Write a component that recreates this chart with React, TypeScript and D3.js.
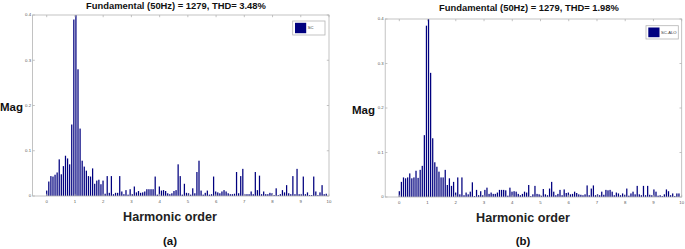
import React from "react";
import * as d3 from "d3";

// FFT bin resolution expressed in harmonic order
const BIN_STEP = 0.0739;

// Panel (a): SC
const scMag = [
  0.012, 0.032, 0.044, 0.043, 0.047, 0.052, 0.081, 0.048, 0.066, 0.089,
  0.083, 0.07, 0.158, 0.39, 1.0, 0.28, 0.149, 0.078, 0.065, 0.056,
  0.044, 0.043, 0.061, 0.027, 0.034, 0.036, 0.026, 0.034, 0.005, 0.044,
  0.007, 0.044, 0.004, 0.007, 0.007, 0.044, 0.01, 0.004, 0.013, 0.003,
  0.015, 0.004, 0.021, 0.008, 0.011, 0.007, 0.008, 0.01, 0.015, 0.015,
  0.015, 0.015, 0.043, 0.003, 0.021, 0.012, 0.013, 0.011, 0.006, 0.004,
  0.006, 0.011, 0.013, 0.07, 0.044, 0.003, 0.027, 0.007, 0.006, 0.003,
  0.017, 0.006, 0.053, 0.078, 0.012, 0.003, 0.007, 0.012, 0.003, 0.004,
  0.043, 0.01, 0.008, 0.006, 0.01, 0.013, 0.01, 0.006, 0.004, 0.004,
  0.005, 0.053, 0.006, 0.044, 0.06, 0.004, 0.004, 0.004, 0.01, 0.004,
  0.053, 0.013, 0.045, 0.004, 0.01, 0.004, 0.004, 0.007, 0.006, 0.002,
  0.017, 0.002, 0.004, 0.013, 0.008, 0.024, 0.006, 0.004, 0.044, 0.004,
  0.06, 0.004, 0.004, 0.043, 0.004, 0.008, 0.002, 0.002, 0.043, 0.01,
  0.002, 0.008, 0.024, 0.004, 0.005,
];

// Panel (b): SC-ALO
const scAloMag = [
  0.013, 0.034, 0.044, 0.042, 0.044, 0.053, 0.042, 0.044, 0.059, 0.043,
  0.061, 0.07, 0.139, 0.385, 1.0, 0.279, 0.132, 0.078, 0.068, 0.057,
  0.044, 0.044, 0.061, 0.027, 0.042, 0.025, 0.034, 0.01, 0.044, 0.006,
  0.044, 0.004, 0.01, 0.006, 0.012, 0.033, 0.002, 0.016, 0.004, 0.013,
  0.004, 0.016, 0.021, 0.007, 0.01, 0.007, 0.007, 0.01, 0.016, 0.016,
  0.016, 0.015, 0.003, 0.021, 0.012, 0.013, 0.012, 0.007, 0.004, 0.007,
  0.012, 0.01, 0.027, 0.002, 0.006, 0.025, 0.007, 0.006, 0.003, 0.018,
  0.006, 0.004, 0.019, 0.034, 0.012, 0.004, 0.007, 0.016, 0.004, 0.017,
  0.009, 0.01, 0.006, 0.007, 0.012, 0.009, 0.006, 0.005, 0.004, 0.006,
  0.026, 0.004, 0.019, 0.026, 0.004, 0.006, 0.004, 0.012, 0.005, 0.016,
  0.015, 0.016, 0.012, 0.004, 0.01, 0.008, 0.004, 0.008, 0.005, 0.019,
  0.003, 0.008, 0.012, 0.006, 0.025, 0.006, 0.004, 0.025, 0.004, 0.025,
  0.005, 0.004, 0.017, 0.012, 0.003, 0.004, 0.002, 0.006, 0.017, 0.013,
  0.004, 0.008, 0.002, 0.008, 0.008,
];

const xTicks = [0, 1, 2, 3, 4, 5, 6, 7, 8, 9, 10];
const yTicks = [0, 0.1, 0.2, 0.3, 0.4];
const xDomain = [-0.5, 10];
const yDomain = [0, 0.4];

const FONT = "'Liberation Sans', Arial, Helvetica, sans-serif";
const BAR = "#00007f";
const AXIS = "#b4b4b4";

type PanelProps = {
  id: string;
  values: number[];
  left: number;
  right: number;
  top: number;
  bottom: number;
  title: string;
  titleX: number;
  titleY: number;
  legend: string;
  legendBox: [number, number, number, number];
  magX: number;
  magY: number;
  labelX: number;
  labelY: number;
  caption: string;
  captionY: number;
};

function Panel(p: PanelProps) {
  const x = d3.scaleLinear().domain(xDomain).range([p.left, p.right]);
  const y = d3.scaleLinear().domain(yDomain).range([p.bottom, p.top]);
  const bw = 1.25;
  const tl = 2.2;
  const [lx, ly, lw, lh] = p.legendBox;
  return (
    <g>
      <defs>
        <clipPath id={`clip-${p.id}`}>
          <rect x={p.left} y={p.top} width={p.right - p.left} height={p.bottom - p.top} />
        </clipPath>
      </defs>
      <text x={p.titleX} y={p.titleY} textAnchor="middle" fontFamily={FONT} fontWeight="bold" fontSize={9.4} fill="#111">
        {p.title}
      </text>
      <g clipPath={`url(#clip-${p.id})`}>
        {p.values.map((v, i) => {
          const h = i * BIN_STEP;
          return (
            <rect
              key={i}
              x={x(h) - bw / 2}
              y={y(v)}
              width={bw}
              height={y(0) - y(v)}
              fill={BAR}
            />
          );
        })}
      </g>
      {/* box */}
      <rect x={p.left} y={p.top} width={p.right - p.left} height={p.bottom - p.top} fill="none" stroke={AXIS} strokeWidth={0.8} />
      {xTicks.map((t) => (
        <g key={`x${t}`}>
          <line x1={x(t)} x2={x(t)} y1={p.bottom} y2={p.bottom - tl} stroke={AXIS} strokeWidth={0.8} />
          <line x1={x(t)} x2={x(t)} y1={p.top} y2={p.top + tl} stroke={AXIS} strokeWidth={0.8} />
          <text x={x(t)} y={p.bottom + 6.5} textAnchor="middle" fontFamily={FONT} fontSize={4.3} fill="#555">
            {t}
          </text>
        </g>
      ))}
      {yTicks.map((t) => (
        <g key={`y${t}`}>
          <line x1={p.left} x2={p.left + tl} y1={y(t)} y2={y(t)} stroke={AXIS} strokeWidth={0.8} />
          <line x1={p.right} x2={p.right - tl} y1={y(t)} y2={y(t)} stroke={AXIS} strokeWidth={0.8} />
          <text x={p.left - 1.5} y={y(t) + 1.4} textAnchor="end" fontFamily={FONT} fontSize={4.3} fill="#555">
            {t === 0 ? "0" : d3.format(".1f")(t)}
          </text>
        </g>
      ))}
      {/* legend */}
      <rect x={lx} y={ly} width={lw} height={lh} fill="#fff" stroke={AXIS} strokeWidth={0.8} />
      <rect x={lx + 2.3} y={ly + 1.8} width={11.2} height={lh - 3.6} fill={BAR} />
      <text x={lx + 15} y={ly + lh / 2 + 1.4} fontFamily={FONT} fontSize={4.2} fill="#333">
        {p.legend}
      </text>
      <text x={p.magX} y={p.magY} fontFamily={FONT} fontWeight="bold" fontSize={11.5} fill="#111">
        Mag
      </text>
      <text x={p.labelX} y={p.labelY} textAnchor="middle" fontFamily={FONT} fontWeight="bold" fontSize={12.6} fill="#222">
        Harmonic order
      </text>
      <text x={p.labelX} y={p.captionY} textAnchor="middle" fontFamily={FONT} fontWeight="bold" fontSize={11.5} fill="#111">
        {p.caption}
      </text>
    </g>
  );
}

export default function App() {
  return (
    <div style={{ position: "fixed", left: 0, top: 0, width: 685, height: 249, background: "#fff" }}>
      <svg width={685} height={249} style={{ display: "block" }}>
        <rect width={685} height={249} fill="#fff" />
        <Panel
          id="a"
          values={scMag}
          left={32.6}
          right={329}
          top={15}
          bottom={196}
          title="Fundamental (50Hz) = 1279, THD= 3.48%"
          titleX={176}
          titleY={8.5}
          legend="SC"
          legendBox={[292.7, 21, 32.3, 14]}
          magX={0}
          magY={111}
          labelX={170}
          labelY={221}
          caption="(a)"
          captionY={245}
        />
        <Panel
          id="b"
          values={scAloMag}
          left={385.2}
          right={681.7}
          top={19}
          bottom={197}
          title="Fundamental (50Hz) = 1279, THD= 1.98%"
          titleX={529}
          titleY={11}
          legend="SC-ALO"
          legendBox={[646, 25.7, 32.3, 13.3]}
          magX={352}
          magY={113.5}
          labelX={523}
          labelY={222}
          caption="(b)"
          captionY={245}
        />
      </svg>
    </div>
  );
}
